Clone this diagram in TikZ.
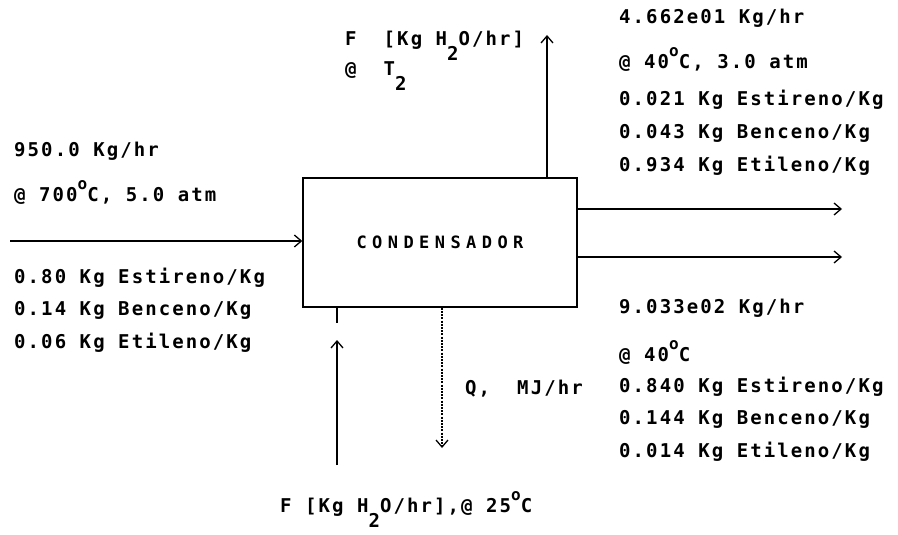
\documentclass[tikz,border=0pt]{standalone}
\usepackage{fontspec}
\newfontfamily\printfont[LetterSpace=11]{DejaVu Sans Mono}
\usetikzlibrary{arrows.meta, positioning}
\newcommand{\dego}{\raisebox{12pt}{\fontsize{16}{16}\selectfont o}}
\newcommand{\lowtwo}{\raisebox{-15pt}{2}}

\begin{document}
\begin{tikzpicture}[
    x=1pt, y=-1pt,
    lbl/.style={inner sep=0pt, anchor=west, text height=14pt, text depth=0pt, font=\printfont\bfseries\fontsize{19}{19}\selectfont},
    unit/.style={rectangle, draw, line width=1.4pt, minimum width=274pt, minimum height=129pt, font=\printfont\bfseries\fontsize{17}{17}\selectfont\addfontfeature{LetterSpace=32}},
    stream/.style={-{Straight Barb[length=7pt, width=12pt]}, line width=1.3pt},
    heat/.style={stream, dash pattern=on 2pt off 1.2pt}
]
    \useasboundingbox (0,0) rectangle (898,535);

    \node[unit] (cond) at (440,242.5) {CONDENSADOR};

    % alimentacion
    \node[lbl] (feedrate) at (14,150) {950.0 Kg/hr};
    \node[lbl] (feedcond) at (14,194) {@ 700\dego C, 5.0 atm};
    \node[lbl] (feedsty) at (14,276) {0.80 Kg Estireno/Kg};
    \node[lbl, below=18.5pt of feedsty.south west, anchor=north west] (feedben) {0.14 Kg Benceno/Kg};
    \node[lbl, below=18.5pt of feedben.south west, anchor=north west] (feedeth) {0.06 Kg Etileno/Kg};

    % vapor
    \node[lbl] (vaprate) at (619,17) {4.662e01 Kg/hr};
    \node[lbl] (vapcond) at (619,62) {@ 40\dego C, 3.0 atm};
    \node[lbl] (vapsty) at (619,99) {0.021 Kg Estireno/Kg};
    \node[lbl, below=18.5pt of vapsty.south west, anchor=north west] (vapben) {0.043 Kg Benceno/Kg};
    \node[lbl, below=18.5pt of vapben.south west, anchor=north west] (vapeth) {0.934 Kg Etileno/Kg};

    % liquido
    \node[lbl] (liqrate) at (619,306) {9.033e02 Kg/hr};
    \node[lbl] (liqcond) at (619,354) {@ 40\dego C};
    \node[lbl] (liqsty) at (619,385) {0.840 Kg Estireno/Kg};
    \node[lbl, below=18.5pt of liqsty.south west, anchor=north west] (liqben) {0.144 Kg Benceno/Kg};
    \node[lbl, below=18.5pt of liqben.south west, anchor=north west] (liqeth) {0.014 Kg Etileno/Kg};

    % agua y calor
    \node[lbl] (cwout) at (345,39) {F~~[Kg H\lowtwo O/hr]};
    \node[lbl] (cwtemp) at (345,69) {@~~T\lowtwo};
    \node[lbl] (heatq) at (465,387) {Q,~~MJ/hr};
    \node[lbl] (cwin) at (280,505) {F [Kg H\lowtwo O/hr],@ 25\dego C};

    \coordinate (feedin) at (10,241);
    \coordinate (vapend) at (842,209);
    \coordinate (liqend) at (842,257);
    \coordinate (cwtop) at (547,35);
    \coordinate (cwfoot) at (337,465);
    \coordinate (cwtip) at (337,340);
    \coordinate (qend) at (442,448);

    \draw[stream] (feedin) -- (feedin -| cond.west);
    \draw[stream] (vapend -| cond.east) -- (vapend);
    \draw[stream] (liqend -| cond.east) -- (liqend);
    \draw[stream] (cwtop |- cond.north) -- (cwtop);
    \draw[stream] (cwfoot) -- (cwtip);
    \draw[line width=1.3pt] (cwfoot |- cond.south) -- ++(0,15);
    \draw[heat] (qend |- cond.south) -- (qend);
\end{tikzpicture}
\end{document}
